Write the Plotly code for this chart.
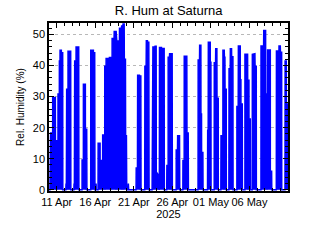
import pandas as pd
import plotly.graph_objects as go

START = "2025-04-10 00:00"

# Hours since START and relative humidity (%), in four segments
seg1_hours = [0, 3, 5, 11.4, 11.5, 19.7, 20, 28, 28.1, 32.2, 32.3, 34.3, 34.4, 38.4, 38.5, 42.6, 43,
              52.5, 53, 54, 55, 59.2, 59.3, 67.5, 68, 77.5, 78, 79, 80, 84.2, 84.3, 92.5, 93,
              102.9, 103, 107, 107.1, 113.2, 113.3, 117.4, 118, 129.9, 130, 138.2, 138.3, 142.3, 143,
              146, 146.5, 147, 152.7, 153, 159, 159.1, 167, 167.1, 173.5, 173.6, 177.7, 177.8, 183.9,
              184, 188, 188.1, 196.4]
seg1_rh = [0, 0, 18.3, 18.3, 29.7, 29.7, 15.8, 15.8, 30.8, 30.8, 41.5, 41.5, 44.9, 44.9, 44.1, 44.1, 0,
           0, 2, 0, 32.4, 32.4, 44.6, 44.6, 0, 0, 2, 0, 41.5, 41.5, 46, 46, 0,
           0, 9.6, 9.6, 34, 34, 19.5, 19.5, 0, 0, 44.9, 44.9, 44.1, 44.1, 0,
           0, 2, 0, 0, 15, 15, 9.4, 9.4, 17.6, 17.6, 39.8, 39.8, 42.3, 42.3,
           40.9, 40.9, 42.6, 42.6]

seg2_hours = [196.5, 202.6, 203, 209, 211, 219.3, 219.5, 225.5, 226, 230, 230.5, 234, 234.5, 238,
              238.5, 241, 242, 246, 247, 248, 271, 271.5, 275.4, 276, 281.6, 282, 285.8, 286.5,
              298, 298.5, 302.4, 303, 306.5, 307, 310.7, 311.5, 321, 321.5, 323.2, 323.5, 329.4,
              330, 333.6, 334, 341.9, 342, 343.5, 344, 350.2, 350.5, 358.5, 359]
seg2_rh = [48.7, 48.7, 51, 51, 47.9, 47.9, 52, 52, 52.7, 52.7, 53.4, 53.4, 42, 42,
           17.4, 17.4, 0, 0, 2, 0, 0, 7, 7, 36.9, 36.9, 36.6, 36.6, 0,
           0, 39.8, 39.8, 48, 48, 47.5, 47.5, 0, 0, 19.8, 19.8, 46, 46,
           46.2, 46.2, 5.7, 4.6, 0, 0, 45.8, 45.8, 45.5, 45.5, 0]

seg3_hours = [366.5, 367, 370.9, 371, 375, 375.5, 383.4, 384, 395.9, 396, 400, 400.5, 406.3, 407,
              416.7, 417, 420.8, 421, 429, 429.5, 433.3, 434, 464, 464.4, 468.6, 469, 472.8, 473,
              474.8, 475, 479, 479.5, 493.5, 494, 495.6, 496, 501.9, 502, 504, 504.5, 514.3, 514.5,
              518.5, 519, 522.6, 523, 526.8, 527, 535, 535.5, 541.3, 541.5, 545.5, 546, 547.6, 548,
              551.7, 552, 560]
seg3_rh = [0, 7.8, 7.8, 42.7, 42.7, 43.8, 43.8, 0, 0, 12.8, 12.8, 17.4, 17.4, 0,
           0, 9.4, 9.4, 43, 43, 18.3, 18.3, 0, 0, 41.8, 41.8, 46.5, 46.5, 24.4,
           24.4, 12, 12, 0, 0, 19.2, 19.2, 47.5, 47.5, 41.1, 41.1, 0, 0, 40.9,
           40.9, 45.4, 45.4, 29.5, 29.5, 0, 0, 17.4, 17.4, 44.9, 44.9, 42.7, 42.7, 32.4,
           32.4, 0, 0]

seg4_hours = [560.5, 564.2, 564.5, 568.3, 568.5, 572.5, 573, 584.9, 585, 589, 589.5, 595.3, 595.5,
              597.4, 597.5, 601.6, 602, 609.9, 610, 618.2, 618.5, 622.4, 622.5, 626.5, 627, 632.7,
              633, 636.9, 637, 641, 641.5, 645.2, 645.5, 659.8, 660, 668.1, 668.5, 674.3, 674.5,
              676.4, 676.5, 680, 680.5, 688.9, 689, 693, 693.5, 707.6, 708, 715.9, 716, 720, 720.5,
              724.2, 724.5, 734.6, 735, 738.7, 739, 744.5]
seg4_rh = [39, 39, 45.4, 45.4, 42.8, 42.8, 0, 0, 26.8, 26.8, 46.3, 46.3, 35.4,
           35.4, 27.6, 27.6, 0, 0, 43.6, 43.6, 35.3, 35.3, 22.8, 22.8, 0, 0,
           43.6, 43.6, 43.8, 43.8, 39.8, 39.8, 0, 0, 46.3, 46.3, 51.3, 51.3, 30.8,
           30.8, 10, 10, 45, 45, 6, 6, 0, 0, 44.7, 44.7, 46.3, 46.3, 44.3,
           44.3, 0, 0, 41.5, 41.5, 27.6, 27.6]

tick_dates = ["2025-04-11", "2025-04-16", "2025-04-21", "2025-04-26", "2025-05-01", "2025-05-06"]
tick_labels = ["11 Apr", "16 Apr", "21 Apr", "26 Apr", "01 May", "06 May"]
y_ticks = [0, 10, 20, 30, 40, 50]

hours = seg1_hours + seg2_hours + seg3_hours + seg4_hours
rh = seg1_rh + seg2_rh + seg3_rh + seg4_rh
times = pd.Timestamp(START) + pd.to_timedelta(hours, unit="h")

FONT = "Liberation Sans"

fig = go.Figure()
fig.add_trace(go.Scatter(
    x=times, y=rh, mode="lines",
    line=dict(color="#0000ff", width=1.5),
    fill="tozeroy", fillcolor="#0000ff",
    hoverinfo="skip", showlegend=False,
))

fig.update_layout(
    width=320, height=240,
    margin=dict(l=49, r=32, t=23, b=49),
    paper_bgcolor="white", plot_bgcolor="white",
    font=dict(family=FONT, color="black", size=11),
    title=dict(text="R. Hum at Saturna", x=0.527, xanchor="center", y=0.955, yanchor="middle",
               font=dict(family=FONT, size=13, color="black")),
)

fig.update_xaxes(
    type="date", range=["2025-04-10", "2025-05-11"],
    tickmode="array", tickvals=tick_dates, ticktext=tick_labels,
    tickangle=0,
    ticks="inside", ticklen=5, tickwidth=1, tickcolor="black",
    minor=dict(dtick=86400000, ticks="inside", ticklen=3, tickcolor="black", showgrid=False),
    showline=True, linecolor="black", linewidth=1.5, mirror="allticks",
    showgrid=False, zeroline=False,
    tickfont=dict(family=FONT, size=11, color="black"),
    title=dict(text="2025", standoff=2, font=dict(family=FONT, size=11, color="black")),
)

fig.update_yaxes(
    range=[-0.4, 53.7],
    tickmode="array", tickvals=y_ticks,
    ticks="inside", ticklen=5, tickwidth=1, tickcolor="black",
    minor=dict(dtick=2, ticks="inside", ticklen=3, tickcolor="black", showgrid=False),
    showline=True, linecolor="black", linewidth=1.5, mirror="allticks",
    showgrid=True, gridcolor="#b8b8b8", griddash="dot", gridwidth=1,
    zeroline=False,
    tickfont=dict(family=FONT, size=11, color="black"),
    title=dict(text="Rel. Humidity (%)", standoff=6, font=dict(family=FONT, size=10, color="black")),
)

fig.write_html("out.html")
